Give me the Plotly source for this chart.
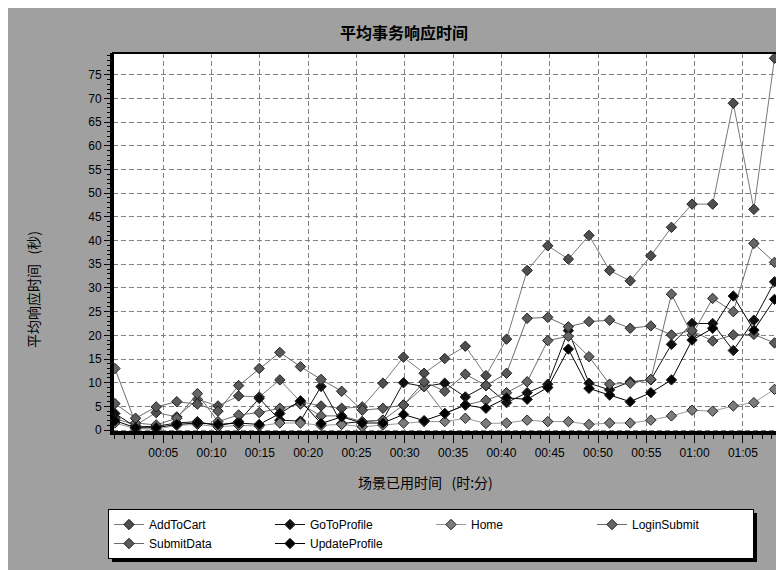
import plotly.graph_objects as go

# elapsed scenario time of each sample (seconds, 128 s granularity)
elapsed = [0, 128, 256, 384, 512, 640, 768, 896, 1024, 1152, 1280, 1408, 1536,
           1664, 1792, 1920, 2048, 2176, 2304, 2432, 2560, 2688, 2816, 2944,
           3072, 3200, 3328, 3456, 3584, 3712, 3840, 3968, 4096]

add_to_cart = [2.5, 1.0, 3.7, 2.8, 6.5, 5.1, 7.2, 7.0, 10.6, 6.0, 5.1, 4.6, 4.9,
               9.9, 15.4, 12.0, 15.1, 17.7, 11.5, 19.2, 33.7, 38.9, 36.1, 41.1,
               33.7, 31.5, 36.8, 42.8, 47.7, 47.7, 69.0, 46.6, 78.5]
go_to_profile = [3.5, 0.7, 0.8, 1.5, 1.8, 0.9, 1.8, 6.7, 2.1, 1.9, 9.2, 1.4, 1.8,
                 2.1, 10.0, 9.2, 9.9, 7.0, 9.4, 5.8, 7.9, 9.7, 21.0, 9.9,
                 8.5, 10.2, 10.6, 18.1, 22.5, 22.5, 16.8, 23.2, 31.3]
home = [1.5, 0.3, 0.2, 1.0, 1.2, 0.7, 1.0, 0.85, 1.5, 1.5, 1.0, 1.2, 0.7,
        1.06, 1.5, 1.8, 1.8, 2.5, 1.4, 1.5, 2.1, 1.8, 1.8, 1.2,
        1.5, 1.5, 2.1, 3.0, 4.2, 4.0, 5.1, 5.8, 8.6]
login_submit = [13.0, 1.5, 1.1, 2.5, 7.7, 1.8, 3.2, 3.7, 4.6, 5.5, 3.0, 3.0, 1.8,
                2.1, 5.3, 9.2, 3.5, 5.3, 6.3, 7.9, 10.2, 18.9, 19.8, 15.5,
                9.7, 9.9, 10.7, 28.7, 20.1, 27.8, 25.0, 39.4, 35.4]
submit_data = [5.6, 2.5, 4.9, 6.0, 5.5, 4.0, 9.4, 13.0, 16.4, 13.4, 10.7, 8.2, 4.2,
               4.6, 5.3, 10.2, 8.2, 11.8, 9.4, 12.0, 23.6, 23.8, 21.8, 22.9,
               23.2, 21.5, 22.0, 20.1, 21.0, 18.8, 20.1, 20.2, 18.4]
update_profile = [2.0, 0.5, 0.5, 1.2, 1.5, 1.2, 1.5, 1.2, 3.5, 6.2, 1.4, 2.8, 1.5,
                  1.5, 3.3, 2.0, 3.5, 5.3, 4.6, 6.8, 6.5, 9.0, 17.1, 8.8,
                  7.4, 6.0, 7.9, 10.6, 19.0, 21.5, 28.3, 21.1, 27.6]

x_tick_vals = [300, 600, 900, 1200, 1500, 1800, 2100, 2400, 2700, 3000, 3300, 3600, 3900]
x_tick_text = ["00:05", "00:10", "00:15", "00:20", "00:25", "00:30", "00:35",
               "00:40", "00:45", "00:50", "00:55", "01:00", "01:05"]

series = [
    ("AddToCart", add_to_cart, "#7a7a7a", "#4e4e4e"),
    ("GoToProfile", go_to_profile, "#111111", "#111111"),
    ("Home", home, "#9a9a9a", "#7c7c7c"),
    ("LoginSubmit", login_submit, "#6e6e6e", "#666666"),
    ("SubmitData", submit_data, "#6a6a6a", "#5a5a5a"),
    ("UpdateProfile", update_profile, "#000000", "#000000"),
]

fig = go.Figure()
for name, vals, line_col, mark_col in series:
    fig.add_trace(go.Scatter(
        x=elapsed, y=vals, name=name, mode="lines+markers",
        line=dict(color=line_col, width=1),
        marker=dict(symbol="diamond", size=8, color=mark_col,
                    line=dict(color="#202020", width=1)),
    ))

grid = dict(showgrid=True, gridcolor="#808080", gridwidth=1, griddash="5px,3px",
            zeroline=False, ticks="outside", tickcolor="black",
            showline=True, linecolor="black", linewidth=3,
            tickfont=dict(family="Liberation Sans, Arial", size=12, color="black"))

fig.update_xaxes(range=[-12, 4155], tickmode="array", tickvals=x_tick_vals,
                 ticktext=x_tick_text, ticklen=8,
                 minor=dict(tickmode="linear", tick0=0, dtick=60, ticklen=4,
                            tickcolor="black", showgrid=False),
                 **grid)
fig.update_yaxes(range=[-0.4, 79.6], tickmode="linear", tick0=0, dtick=5, ticklen=6,
                 minor=dict(tickmode="linear", tick0=0, dtick=1, ticklen=3,
                            tickcolor="black", showgrid=False),
                 **grid)

cjk = "Noto Sans CJK SC"
# page has an 8px body margin; plot area lands at screen x 113..784, y 53..432
px = lambda v: (v - 113) / 671
py = lambda v: (432 - v) / 379

fig.update_layout(
    width=776, height=562,
    margin=dict(l=105, r=0, t=45, b=138, autoexpand=False),
    paper_bgcolor="#a0a0a0", plot_bgcolor="white",
    showlegend=True,
    legend=dict(orientation="h", x=px(108), y=py(509), xanchor="left", yanchor="top",
                entrywidth=116, entrywidthmode="pixels",
                bgcolor="white", bordercolor="black", borderwidth=1,
                font=dict(family="Liberation Sans, Arial", size=12, color="black"),
                tracegroupgap=0),
    annotations=[
        dict(text="<b>平均事务响应时间</b>", x=px(404), y=py(32), xref="paper", yref="paper",
             xanchor="center", yanchor="middle",
             showarrow=False, font=dict(family=cjk, size=16, color="black")),
        dict(text="平均响应时间\u00a0\u00a0\u00a0(秒)", x=px(33), y=py(290), xref="paper",
             yref="paper", textangle=-90, xanchor="center", yanchor="middle",
             showarrow=False, font=dict(family=cjk, size=14, color="black")),
        dict(text="场景已用时间\u00a0\u00a0\u00a0(时:分)", x=px(425), y=py(482), xref="paper",
             yref="paper", xanchor="center", yanchor="middle",
             showarrow=False, font=dict(family=cjk, size=14, color="black")),
    ],
    shapes=[
        dict(type="rect", xref="paper", yref="paper", x0=px(113), x1=px(784), y0=py(432), y1=py(53),
             fillcolor="rgba(0,0,0,0)", line=dict(color="black", width=2)),
        dict(type="rect", xref="paper", yref="paper", x0=px(112), x1=px(757), y0=py(562), y1=py(513),
             fillcolor="black", line=dict(width=0)),
    ],
)

fig.write_html("out.html")
